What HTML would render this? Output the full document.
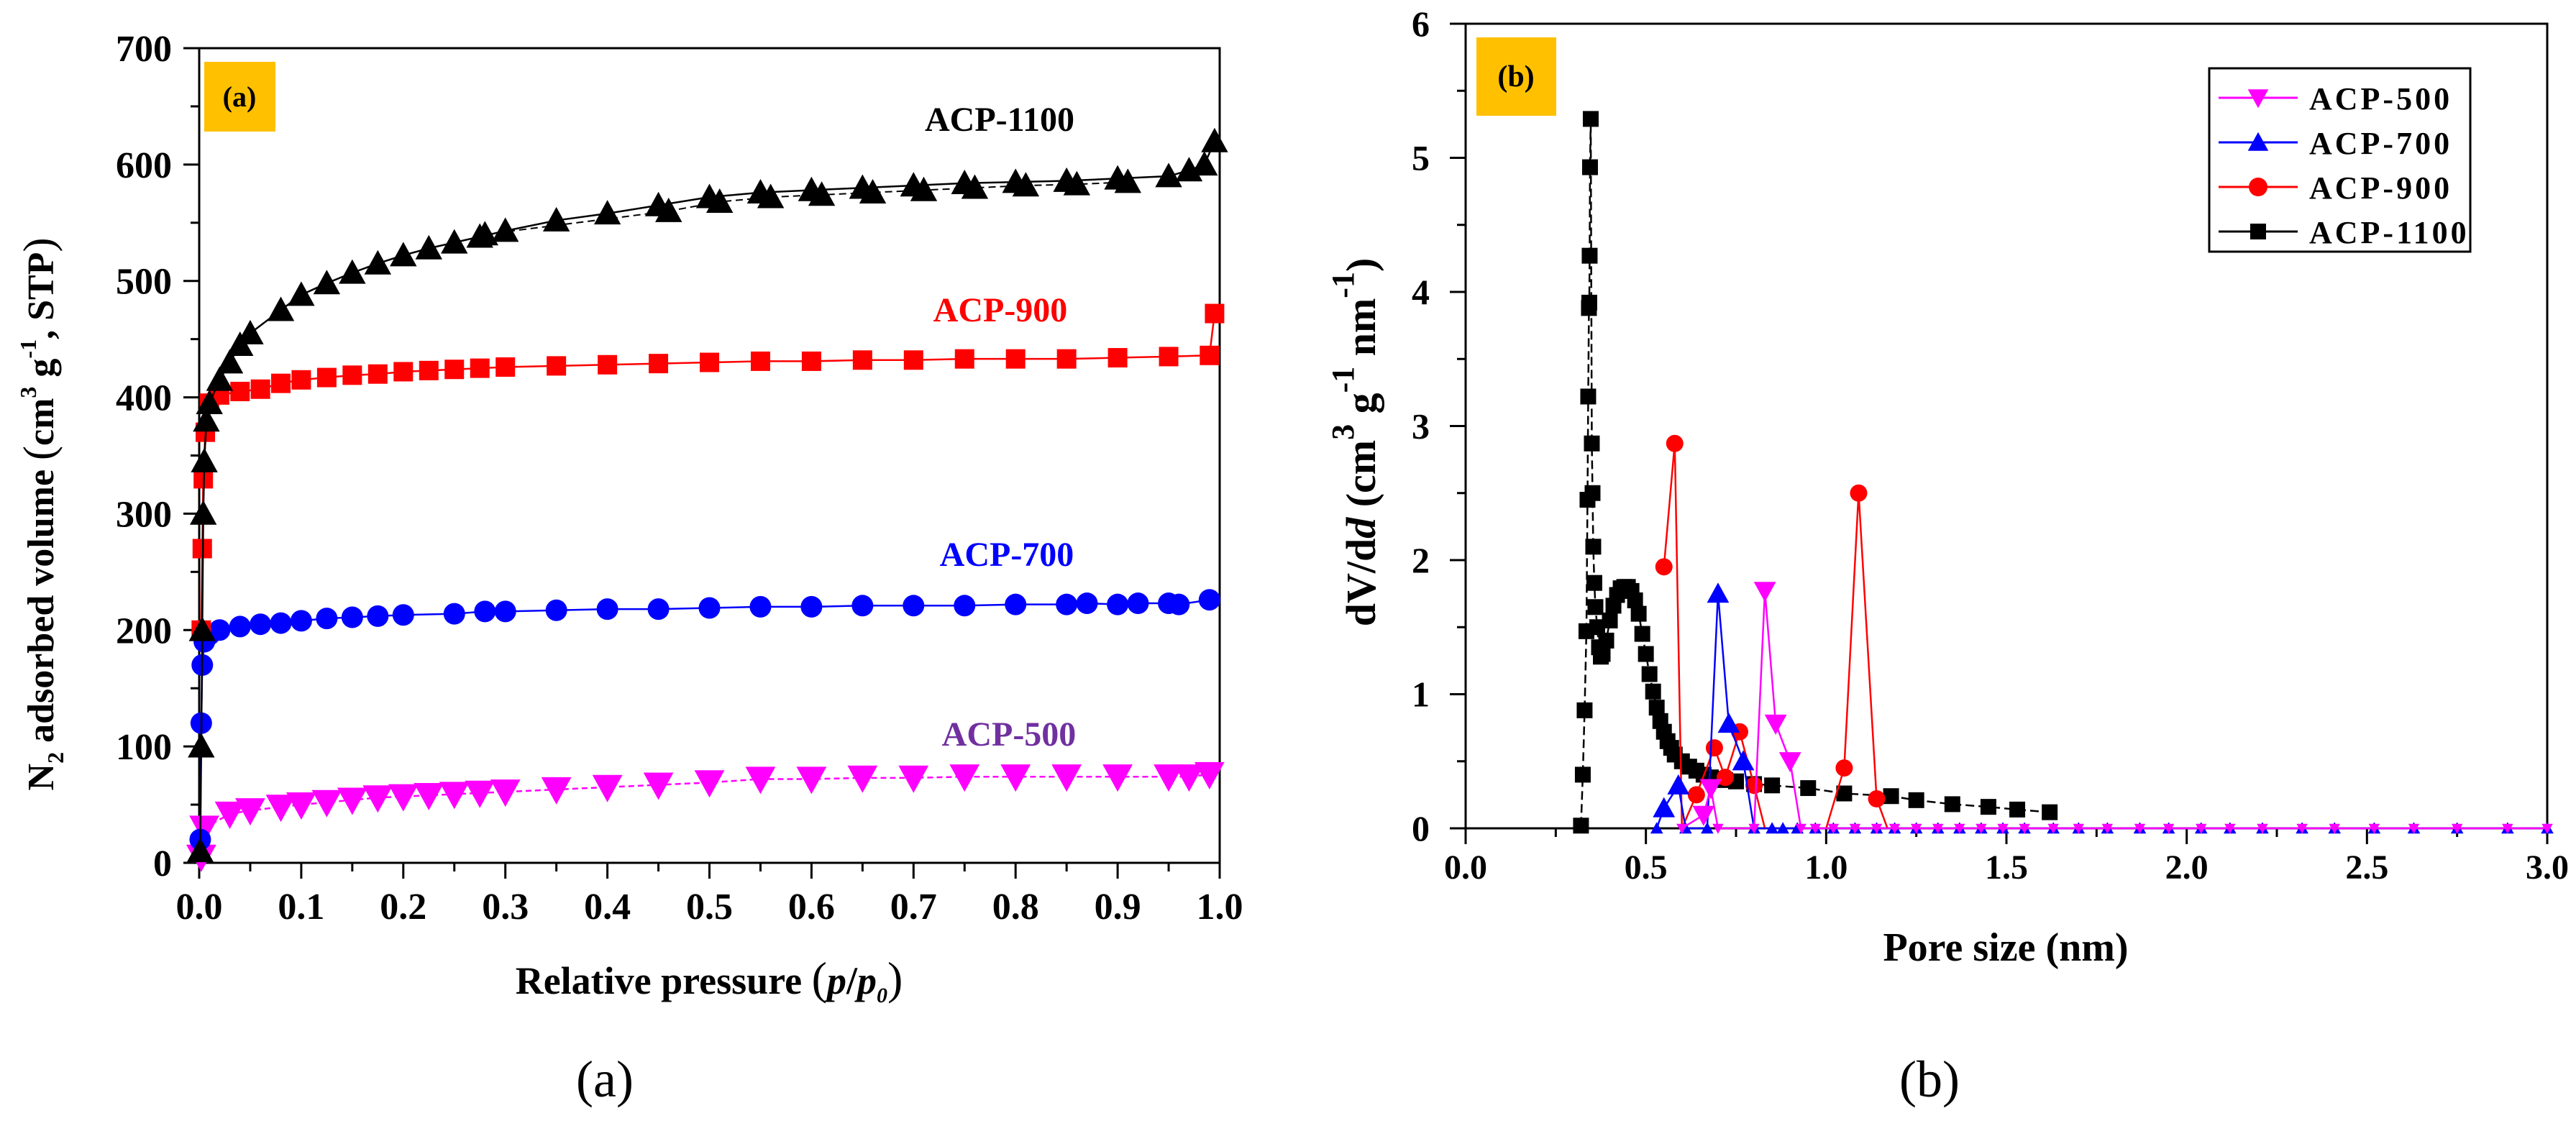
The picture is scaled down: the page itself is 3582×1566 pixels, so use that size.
<!DOCTYPE html>
<html><head><meta charset="utf-8"><style>
html,body{margin:0;padding:0;background:#fff;}
svg{display:block;font-family:"Liberation Serif",serif;}
</style></head><body>
<svg id="chart" width="3582" height="1566" viewBox="0 0 3582 1566" xmlns="http://www.w3.org/2000/svg">
<rect width="3582" height="1566" fill="#fff"/>
<g id="pa"></g>
<g id="pb"></g>
</svg>
<script>
// ---------- Panel (a) data ----------
const a1100X=[0.001,0.002,0.003,0.004,0.005,0.007,0.01,0.02,0.03,0.04,0.05,0.08,0.1,0.125,0.15,0.175,0.2,0.225,0.25,0.275,0.3,0.35,0.4,0.45,0.5,0.55,0.6,0.65,0.7,0.75,0.8,0.85,0.9,0.95,0.97,0.985,0.995];
const a1100Y=[10,100,200,300,345,380,395,415,430,445,455,475,488,498,507,515,522,528,533,538,543,552,558,565,572,576,578,580,582,584,585,586,588,590,595,600,620];
const a1100DX=[0.28,0.46,0.51,0.56,0.61,0.66,0.71,0.76,0.81,0.86,0.91];
const a1100DY=[540,560,568,572,574,576,578,580,582,583,585];
const a900X=[0.002,0.003,0.004,0.006,0.01,0.02,0.04,0.06,0.08,0.1,0.125,0.15,0.175,0.2,0.225,0.25,0.275,0.3,0.35,0.4,0.45,0.5,0.55,0.6,0.65,0.7,0.75,0.8,0.85,0.9,0.95,0.99,0.995];
const a900Y=[200,270,330,370,395,402,405,407,412,415,417,419,420,422,423,424,425,426,427,428,429,430,431,431,432,432,433,433,433,434,435,436,472];
const a700X=[0.001,0.002,0.003,0.005,0.01,0.02,0.04,0.06,0.08,0.1,0.125,0.15,0.175,0.2,0.25,0.28,0.3,0.35,0.4,0.45,0.5,0.55,0.6,0.65,0.7,0.75,0.8,0.85,0.87,0.9,0.92,0.95,0.96,0.99];
const a700Y=[20,120,170,190,196,200,203,205,206,208,210,211,212,213,214,216,216,217,218,218,219,220,220,221,221,221,222,222,223,222,223,223,222,226];
const a500X=[0.002,0.005,0.03,0.05,0.08,0.1,0.125,0.15,0.175,0.2,0.225,0.25,0.275,0.3,0.35,0.4,0.45,0.5,0.55,0.6,0.65,0.7,0.75,0.8,0.85,0.9,0.95,0.97,0.99];
const a500Y=[5,30,42,45,48,50,52,54,56,57,58,59,60,61,63,65,67,69,72,72,73,73,74,74,74,74,74,74,76];
const aXTicks=[0,0.1,0.2,0.3,0.4,0.5,0.6,0.7,0.8,0.9,1.0];
const aXTickLabels=["0.0","0.1","0.2","0.3","0.4","0.5","0.6","0.7","0.8","0.9","1.0"];
const aYTicks=[0,100,200,300,400,500,600,700];
const aYTickLabels=["0","100","200","300","400","500","600","700"];
// ---------- Panel (b) data ----------
const b1100X=[0.32,0.325,0.33,0.335,0.338,0.34,0.342,0.343,0.344,0.345,0.347,0.35,0.352,0.354,0.357,0.36,0.365,0.37,0.375,0.38,0.39,0.4,0.41,0.42,0.43,0.44,0.45,0.46,0.47,0.48,0.49,0.5,0.51,0.52,0.53,0.54,0.55,0.56,0.57,0.58,0.6,0.62,0.64,0.66,0.68,0.7,0.72,0.75,0.8,0.85,0.95,1.05,1.18,1.25,1.35,1.45,1.53,1.62];
const b1100Y=[0.02,0.4,0.88,1.47,2.45,3.22,3.88,3.92,4.27,4.93,5.29,2.87,2.5,2.1,1.83,1.65,1.5,1.35,1.28,1.3,1.4,1.55,1.66,1.74,1.79,1.8,1.8,1.77,1.7,1.6,1.45,1.3,1.15,1.02,0.9,0.8,0.72,0.65,0.6,0.55,0.5,0.46,0.43,0.4,0.38,0.37,0.36,0.35,0.33,0.32,0.3,0.26,0.24,0.21,0.18,0.16,0.14,0.12];
const b900X=[0.55,0.58,0.6,0.64,0.69,0.72,0.76,0.8,0.83,0.9,1.0,1.05,1.09,1.14,1.17,1.3,1.5,1.7,2.0,2.3,2.6,3.0];
const b900Y=[1.95,2.87,0,0.25,0.6,0.38,0.72,0.32,0,0,0,0.45,2.5,0.22,0,0,0,0,0,0,0,0];
const b700X=[0.53,0.55,0.59,0.61,0.67,0.7,0.73,0.77,0.8,0.85,0.88,0.92,0.97,1.02,1.08,1.14,1.19,1.25,1.31,1.37,1.43,1.49,1.55,1.63,1.7,1.78,1.87,1.95,2.04,2.12,2.21,2.32,2.41,2.52,2.63,2.75,2.89,3.0];
const b700Y=[0,0.15,0.32,0,0,1.75,0.78,0.5,0,0,0,0,0,0,0,0,0,0,0,0,0,0,0,0,0,0,0,0,0,0,0,0,0,0,0,0,0,0];
const b500X=[0.6,0.66,0.68,0.7,0.8,0.83,0.86,0.9,0.93,0.97,1.02,1.08,1.14,1.19,1.25,1.31,1.37,1.43,1.49,1.55,1.63,1.7,1.78,1.87,1.95,2.04,2.12,2.21,2.32,2.41,2.52,2.63,2.75,2.89,3.0];
const b500Y=[0,0.1,0.3,0,0,1.77,0.78,0.5,0,0,0,0,0,0,0,0,0,0,0,0,0,0,0,0,0,0,0,0,0,0,0,0,0,0,0];
const bXTicks=[0,0.5,1.0,1.5,2.0,2.5,3.0];
const bXTickLabels=["0.0","0.5","1.0","1.5","2.0","2.5","3.0"];
const bYTicks=[0,1,2,3,4,5,6];
const bYTickLabels=["0","1","2","3","4","5","6"];

const NS="http://www.w3.org/2000/svg";
function mk(tag,attrs,parent){const e=document.createElementNS(NS,tag);for(const k in attrs)e.setAttribute(k,attrs[k]);parent.appendChild(e);return e;}
function marker(g,shape,cx,cy,s,color){
  let e;
  if(shape==='up'){e=mk('polygon',{points:`${cx},${cy-s*0.55} ${cx-s*0.55},${cy+s*0.45} ${cx+s*0.55},${cy+s*0.45}`,fill:color},g);}
  else if(shape==='down'){e=mk('polygon',{points:`${cx},${cy+s*0.55} ${cx-s*0.55},${cy-s*0.45} ${cx+s*0.55},${cy-s*0.45}`,fill:color},g);}
  else if(shape==='sq'){e=mk('rect',{x:cx-s/2,y:cy-s/2,width:s,height:s,fill:color},g);}
  else {e=mk('circle',{cx:cx,cy:cy,r:s/2,fill:color},g);}
  return e;
}
function series(g,name,xs,ys,sx,sy,shape,size,color,lw,dash){
  const sg=mk('g',{},g);
  
  
  const pts=xs.map((x,i)=>sx(x)+','+sy(ys[i])).join(' ');
  const pl=mk('polyline',{points:pts,fill:'none',stroke:color,'stroke-width':lw,'stroke-dasharray':dash||'none'},sg);
  
  
  xs.forEach((x,i)=>{
    const m=marker(sg,shape,sx(x),sy(ys[i]),typeof size==='function'?size(ys[i]):size,color);
    
    
  });
}
function txt(g,x,y,s,attrs,name){const t=mk('text',Object.assign({x:x,y:y},attrs),g);t.textContent=s;return t;}

// ---------- Panel A ----------
(function(){
  const g=document.getElementById('pa');
  const L=277,R=1696,T=67,B=1200;
  const sx=v=>L+v*(R-L), sy=v=>B-v/700*(B-T);
  const fr=mk('rect',{x:L,y:T,width:R-L,height:B-T,fill:'none',stroke:'#000','stroke-width':3},g);
  
  for(let v=0;v<=700;v+=50){const y=sy(v);mk('line',{x1:L,x2:L-(v%100===0?22:12),y1:y,y2:y,stroke:'#000','stroke-width':3},g);}
  for(let k=0;k<=20;k++){const x=sx(k*0.05);mk('line',{x1:x,x2:x,y1:B,y2:B+(k%2===0?22:12),stroke:'#000','stroke-width':3},g);}
  aYTicks.forEach((v,i)=>txt(g,L-38,sy(v)+18,aYTickLabels[i],{'text-anchor':'end','font-size':52,'font-weight':'bold'},'y-tick-label'));
  aXTicks.forEach((v,i)=>txt(g,sx(v),1278,aXTickLabels[i],{'text-anchor':'middle','font-size':52,'font-weight':'bold'},'x-tick-label'));
  const xt=txt(g,986,1382,'',{'text-anchor':'middle','font-size':54,'font-weight':'bold'},'x-axis-title');
  xt.innerHTML='Relative pressure <tspan font-weight="normal" font-size="64">(</tspan><tspan font-style="italic">p</tspan>/<tspan font-style="italic">p</tspan><tspan font-size="30" dy="12" font-style="italic">0</tspan><tspan dy="-12" font-weight="normal" font-size="64">)</tspan>';
  const yt=txt(g,0,0,'',{'text-anchor':'middle','font-size':52,'font-weight':'bold',transform:'translate(74,715) rotate(-90)'},'y-axis-title');
  yt.innerHTML='N<tspan font-size="32" dy="14">2</tspan><tspan dy="-14"> adsorbed volume </tspan><tspan font-weight="normal" font-size="60">(</tspan>cm<tspan font-size="32" dy="-24">3</tspan><tspan dy="24"> g</tspan><tspan font-size="32" dy="-24">-1</tspan><tspan dy="24">, STP</tspan><tspan font-weight="normal" font-size="60">)</tspan>';
  const lb=mk('rect',{x:284,y:86,width:99,height:97,fill:'#FFC000'},g);
  
  txt(g,333,148,'(a)',{'text-anchor':'middle','font-size':40,'font-weight':'bold'},'panel-label');
  series(g,'acp-500-series',a500X,a500Y,sx,sy,'down',38,'#FF00FF',2.5,'8,5');
  series(g,'acp-700-series',a700X,a700Y,sx,sy,'circ',30,'#0000FF',2.5);
  series(g,'acp-900-series',a900X,a900Y,sx,sy,'sq',27,'#FF0000',2.5);
  series(g,'acp-1100-series',a1100X,a1100Y,sx,sy,'up',34,'#000',2.5);
  series(g,'acp-1100-desorption',a1100DX,a1100DY,sx,sy,'up',34,'#000',2,'10,6');
  txt(g,1390,182,'ACP-1100',{'text-anchor':'middle','font-size':48,'font-weight':'bold',fill:'#000'},'label-acp-1100');
  txt(g,1391,447,'ACP-900',{'text-anchor':'middle','font-size':48,'font-weight':'bold',fill:'#FF0000'},'label-acp-900');
  txt(g,1400,787,'ACP-700',{'text-anchor':'middle','font-size':48,'font-weight':'bold',fill:'#0000FF'},'label-acp-700');
  txt(g,1403,1037,'ACP-500',{'text-anchor':'middle','font-size':48,'font-weight':'bold',fill:'#7030A0'},'label-acp-500');
  txt(g,841,1525,'(a)',{'text-anchor':'middle','font-size':72},'caption-a');
})();

// ---------- Panel B ----------
(function(){
  const g=document.getElementById('pb');
  const L=2038,R=3542,T=33,B=1152;
  const sx=v=>L+v/3*(R-L), sy=v=>B-v/6*(B-T);
  const fr=mk('rect',{x:L,y:T,width:R-L,height:B-T,fill:'none',stroke:'#000','stroke-width':3},g);
  
  for(let k=0;k<=12;k++){const v=k*0.5;const y=sy(v);mk('line',{x1:L,x2:L-(k%2===0?22:12),y1:y,y2:y,stroke:'#000','stroke-width':3},g);}
  for(let k=0;k<=12;k++){const x=sx(k*0.25);mk('line',{x1:x,x2:x,y1:B,y2:B+(k%2===0?22:12),stroke:'#000','stroke-width':3},g);}
  bYTicks.forEach((v,i)=>txt(g,L-50,sy(v)+17,bYTickLabels[i],{'text-anchor':'end','font-size':50,'font-weight':'bold'},'y-tick-label'));
  bXTicks.forEach((v,i)=>txt(g,sx(v),1222,bXTickLabels[i],{'text-anchor':'middle','font-size':48,'font-weight':'bold'},'x-tick-label'));
  txt(g,2789,1336,'Pore size (nm)',{'text-anchor':'middle','font-size':56,'font-weight':'bold'},'x-axis-title');
  const yt=txt(g,0,0,'',{'text-anchor':'middle','font-size':58,'font-weight':'bold',transform:'translate(1912,615) rotate(-90)'},'y-axis-title');
  yt.innerHTML='dV/d<tspan font-style="italic">d</tspan> (cm<tspan font-size="44" dy="-30">3</tspan><tspan dy="30"> g</tspan><tspan font-size="44" dy="-30">-1</tspan><tspan dy="30"> nm</tspan><tspan font-size="44" dy="-30">-1</tspan><tspan dy="30">)</tspan>';
  const lb=mk('rect',{x:2053,y:52,width:111,height:109,fill:'#FFC000'},g);
  
  txt(g,2108,120,'(b)',{'text-anchor':'middle','font-size':42,'font-weight':'bold'},'panel-label');
  const zs=(big,small)=>(y=>y===0?small:big);
  series(g,'acp-1100-series',b1100X,b1100Y,sx,sy,'sq',22,'#000',2.5,'12,6');
  series(g,'acp-900-series',b900X,b900Y,sx,sy,'circ',zs(24,0),'#FF0000',2.5);
  series(g,'acp-700-series',b700X,b700Y,sx,sy,'up',zs(28,16),'#0000FF',2.5);
  series(g,'acp-500-series',b500X,b500Y,sx,sy,'down',zs(28,14),'#FF00FF',2.5);
  const lg=mk('g',{},g);
  
  mk('rect',{x:3072,y:95,width:363,height:255,fill:'#fff',stroke:'#000','stroke-width':3},lg);
  const names=['ACP-500','ACP-700','ACP-900','ACP-1100'];
  const cols=['#FF00FF','#0000FF','#FF0000','#000'];
  const shapes=['down','up','circ','sq'];
  const ys=[136,198,260,322];
  names.forEach((n,i)=>{
    const e=mk('g',{},lg);
    
    
    mk('line',{x1:3085,x2:3195,y1:ys[i],y2:ys[i],stroke:cols[i],'stroke-width':3},e);
    marker(e,shapes[i],3140,ys[i],i===3?22:26,cols[i]);
    txt(e,3211,ys[i]+16,n,{'font-size':44,'font-weight':'bold','letter-spacing':4},'legend-label');
  });
  txt(g,2683,1525,'(b)',{'text-anchor':'middle','font-size':72},'caption-b');
})();
</script>
</body></html>
